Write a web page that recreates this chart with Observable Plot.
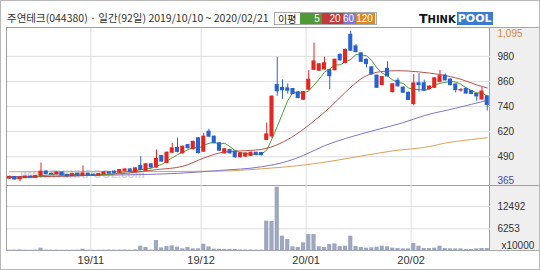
<!DOCTYPE html>
<html><head><meta charset="utf-8">
<script src="https://cdn.jsdelivr.net/npm/d3@7"></script>
<script src="https://cdn.jsdelivr.net/npm/@observablehq/plot@0.6"></script>
<style>
html,body{margin:0;padding:0;background:#fff;}
#root{position:relative;width:540px;height:270px;overflow:hidden;font-family:"Liberation Sans",Arial,sans-serif;background:#fff;}
.abs{position:absolute;}
#frame{left:0;top:0;width:540px;height:270px;border:1px solid #b8b8b8;box-sizing:border-box;}
#title{left:7px;top:11px;font-family:"Noto Sans CJK KR","Noto Sans",sans-serif;font-size:10.5px;line-height:13px;color:#333;white-space:nowrap;}
#legend{left:274px;top:12px;width:103px;height:13px;border:1px solid #aaa;box-sizing:border-box;background:#fff;display:flex;align-items:stretch;font-size:10px;line-height:11px;}
#legend .lb{font-family:"Noto Sans CJK KR",sans-serif;color:#222;padding:0 4px 0 3px;font-size:10px;}
#legend .bx{color:#fff;text-align:right;padding-right:2px;box-sizing:border-box;}
#logo{left:419px;top:12px;height:13px;display:flex;align-items:flex-end;font-family:"DejaVu Sans",sans-serif;font-weight:bold;white-space:nowrap;}
#rightbg{left:490px;top:27px;width:49px;height:224px;background:#efefef;border-top:1px solid #a8a8a8;border-bottom:1px solid #a8a8a8;box-sizing:border-box;}
#panel{left:6px;top:27px;width:484px;height:224px;border:1px solid #a0a0a0;box-sizing:border-box;background:#fff;}
#sep{left:6px;top:185px;width:533px;height:1px;background:#a0a0a0;}
svg{position:absolute;left:0;}
</style></head><body><div id="root">
<div id="rightbg" class="abs"></div>
<div id="panel" class="abs"></div>
<div id="sep" class="abs"></div>
<div id="frame" class="abs"></div>
<div id="title" class="abs">주연테크(044380) · 일간(92일) 2019/10/10 ~ 2020/02/21</div>
<div id="legend" class="abs"></div>
<div id="logo" class="abs"></div>
</div>
<script>
const dates = [
"2019-10-10","2019-10-11","2019-10-14","2019-10-15","2019-10-16","2019-10-17","2019-10-18","2019-10-21","2019-10-22","2019-10-23","2019-10-24","2019-10-25","2019-10-28","2019-10-29","2019-10-30","2019-10-31",
"2019-11-01","2019-11-04","2019-11-05","2019-11-06","2019-11-07","2019-11-08","2019-11-11","2019-11-12","2019-11-13","2019-11-14","2019-11-15","2019-11-18","2019-11-19","2019-11-20","2019-11-21","2019-11-22","2019-11-25","2019-11-26","2019-11-27","2019-11-28","2019-11-29",
"2019-12-02","2019-12-03","2019-12-04","2019-12-05","2019-12-06","2019-12-09","2019-12-10","2019-12-11","2019-12-12","2019-12-13","2019-12-16","2019-12-17","2019-12-18","2019-12-19","2019-12-20","2019-12-23","2019-12-24","2019-12-26","2019-12-27","2019-12-30",
"2020-01-02","2020-01-03","2020-01-06","2020-01-07","2020-01-08","2020-01-09","2020-01-10","2020-01-13","2020-01-14","2020-01-15","2020-01-16","2020-01-17","2020-01-20","2020-01-21","2020-01-22","2020-01-23","2020-01-28","2020-01-29","2020-01-30","2020-01-31",
"2020-02-03","2020-02-04","2020-02-05","2020-02-06","2020-02-07","2020-02-10","2020-02-11","2020-02-12","2020-02-13","2020-02-14","2020-02-17","2020-02-18","2020-02-19","2020-02-20","2020-02-21"];

const open = [380,388,377,384,390,386,394,415,404,401, 410,398,393,404,395,404,399,395,402,411,
 414,409,418,425,411,442,418,450,434,490, 456,506,529,503,543,523,576,511,608,584,
 552,503,519,511,484,487,490,506,505,568, 585,834,820,818,815,799,763,812,908,904,
 910,907,906,981,941,1078,1022,988,957,920, 880,834,913,800,855,822,797,742,843,843,
 815,821,849,880,861,837,808,816,805,791, 764,779];
const high = [392,390,388,393,392,396,456,418,407,413, 412,400,405,406,442,407,402,405,413,413,
 417,425,428,428,433,487,453,452,519,493, 510,551,577,538,546,562,580,600,620,587,
 554,526,522,513,506,505,509,508,507,650, 782,969,859,840,818,802,803,904,1038,938,
 969,910,960,985,1009,1095,1030,991,960,923, 883,876,947,841,868,825,800,885,889,858,
 830,871,905,888,864,840,817,820,808,794, 822,782];
const low = [378,373,365,380,383,384,391,400,397,398, 394,388,390,392,393,394,392,393,400,402,
 405,407,415,412,409,420,415,430,431,460, 453,503,506,500,524,520,500,508,580,549,
 513,500,500,479,481,485,488,492,491,565, 575,780,765,790,788,768,760,808,905,900,
 907,812,903,951,938,998,991,944,917,883, 818,831,873,796,825,794,759,733,800,804,
 812,818,846,854,831,796,800,790,788,756, 761,708];
const close = [389,376,385,390,386,393,414,403,400,410, 396,392,402,395,405,396,395,403,411,405,
 408,422,425,415,430,422,450,434,476,463, 506,527,510,535,528,559,504,584,584,552,
 516,523,503,484,503,502,506,495,494,595, 778,804,809,807,791,771,800,860,949,935,
 940,877,957,954,1005,1001,994,947,936,886, 821,873,876,838,828,797,762,842,834,807,
 827,867,877,857,834,810,810,793,791,779, 803,738];
const volume = [280,300,350,280,260,300,840,300,280,280, 260,280,260,280,560,280,260,260,280,300,
 280,300,320,300,350,1400,1030,300,2980,930, 1300,1490,1120,650,1030,650,650,1950,1200,560,
 500,500,500,500,350,330,330,300,300,8370, 8290,17860,4190,3260,1210,1020,2330,4650,4650,1210,
 1020,1860,2050,1300,1400,4190,1300,1020,840,930, 1120,1400,1210,840,745,650,650,2140,1400,745,
 745,840,1400,745,650,650,650,465,465,650, 745,745];

// moving averages: [day index, price]
const ma20 = [[0,388],[8,391],[16,397],[22,406],[28,424],[33,440],[37,480],[41,510],[45,516],[48,522],[50,535],[53,570],[56,620],[58,660],[61,725],[64,800],[67,865],[69,890],[71,900],[74,904],[78,898],[82,885],[86,862],[89,835],[91,820]];
const ma60 = [[0,390],[16,396],[32,406],[40,420],[48,438],[53,465],[56,493],[60,540],[64,575],[67,597],[70,618],[75,652],[79,686],[85,722],[91,760]];
const ma120 = [[0,414],[20,414],[40,417],[48,428],[56,446],[62,468],[67,490],[73,515],[80,536],[83,553],[88,570],[91,579]];

const priceMax = 1095, priceMin = 365;
const priceLabels = ["980","860","740","620","490"];
const volTicks = [12492, 6253];
const volUnit = "x10000";
const legendItems = [["5","#4f9a36",21.5],["20","#c4393a",20.7],["60","#7b76d8",13.6],["120","#e0871f",18.7]];

const red = "#e3261f", blue = "#2862d2";
const cMA5 = "#4f9a36", cMA20 = "#b5534a", cMA60 = "#7d76c9", cMA120 = "#d9a35a";
const gridC = "#dedede";
const font = '"Liberation Sans", Arial, sans-serif';

const candles = dates.map((date, i) => ({i, date, open: open[i], high: high[i], low: low[i], close: close[i], volume: volume[i]}));
const monthStarts = candles.filter((d, i) => i > 0 && d.date.slice(5, 7) !== candles[i - 1].date.slice(5, 7));
const monthLabel = d => d.date.slice(2, 4) + "/" + d.date.slice(5, 7);
const col = d => d.close >= d.open ? red : blue;
const priceTickRows = priceLabels.map((label, k) => ({v: priceMax - (k + 1) * (priceMax - priceMin) / (priceLabels.length + 1), label}));
const xDomain = [-0.38, dates.length - 1 + 0.62];

const price = Plot.plot({
  width: 540, height: 158,
  marginLeft: 7, marginRight: 50, marginTop: 2.8, marginBottom: 4.7,
  style: {background: "transparent", overflow: "visible", fontFamily: font},
  x: {domain: xDomain, axis: null},
  y: {domain: [priceMin, priceMax], axis: null},
  marks: [
    Plot.ruleY(priceTickRows, {y: "v", stroke: gridC}),
    Plot.ruleX(monthStarts, {x: d => d.i - 0.5, stroke: gridC, insetTop: -2.8, insetBottom: -4.7}),
    Plot.text(["www.THINKPOOL.com"], {frameAnchor: "bottom-left", dx: 13, dy: -4, textAnchor: "start", fontSize: 11.5, fontWeight: "bold", fill: "#cfd3e2"}),
    Plot.line(ma120, {x: d => d[0], y: d => d[1], stroke: cMA120, strokeWidth: 1, curve: "monotone-x"}),
    Plot.line(ma60, {x: d => d[0], y: d => d[1], stroke: cMA60, strokeWidth: 1, curve: "monotone-x"}),
    Plot.line(ma20, {x: d => d[0], y: d => d[1], stroke: cMA20, strokeWidth: 1, curve: "monotone-x"}),
    Plot.lineY(candles, Plot.windowY({k: 5, anchor: "end", x: "i", y: "close", stroke: cMA5, strokeWidth: 1})),
    Plot.ruleX(candles, {x: "i", y1: "low", y2: "high", stroke: col, strokeWidth: 1}),
    Plot.rect(candles, {x1: d => d.i - 0.39, x2: d => d.i + 0.39, y1: "open", y2: "close", fill: col, insetTop: -0.5, insetBottom: -0.5}),
    Plot.text(priceTickRows, {y: "v", text: "label", frameAnchor: "right", dx: 7, textAnchor: "start", fontSize: 10, fill: "#333"}),
    Plot.text([priceMax], {y: d => d, text: d => d3.format(",")(d), frameAnchor: "right", dx: 7, dy: 2, textAnchor: "start", fontSize: 10, fill: "#d4893a"}),
    Plot.text([priceMin], {y: d => d, text: d => String(d), frameAnchor: "right", dx: 7, dy: -1, textAnchor: "start", fontSize: 10, fill: "#4a4aa8"})
  ]
});
price.style.top = "28px";

const vol = Plot.plot({
  width: 540, height: 84,
  marginLeft: 7, marginRight: 50, marginTop: 0, marginBottom: 19.3,
  style: {background: "transparent", overflow: "visible", fontFamily: font},
  x: {domain: xDomain, axis: null},
  y: {domain: [0, 18060], axis: null},
  marks: [
    Plot.ruleY(volTicks, {stroke: gridC}),
    Plot.ruleX(monthStarts, {x: d => d.i - 0.5, stroke: gridC}),
    Plot.rect(candles, {x1: d => d.i - 0.4, x2: d => d.i + 0.4, y1: 0, y2: "volume", fill: "#9ea7bf"}),
    Plot.text(volTicks, {y: d => d, text: d => String(d), frameAnchor: "right", dx: 7, textAnchor: "start", fontSize: 10, fill: "#333"}),
    Plot.text([volUnit], {frameAnchor: "bottom-right", dx: 11, dy: -2, textAnchor: "start", fontSize: 10, fill: "#333"}),
    Plot.text(monthStarts, {x: d => d.i - 0.5, frameAnchor: "bottom", dy: 12.5, text: monthLabel, fontSize: 11, fill: "#333"})
  ]
});
vol.style.top = "186px";

const root = document.getElementById("root");
root.insertBefore(vol, document.getElementById("frame"));
root.insertBefore(price, document.getElementById("frame"));

// legend
const lg = document.getElementById("legend");
const lb = document.createElement("span"); lb.className = "lb"; lb.textContent = "이평"; lg.appendChild(lb);
for (const [t, c, w] of legendItems) {
  const s = document.createElement("span"); s.className = "bx"; s.textContent = t;
  s.style.background = c; s.style.width = w + "px"; lg.appendChild(s);
}
// logo
const logo = document.getElementById("logo");
logo.innerHTML = '<span style="font-size:12.5px;line-height:12px;color:#111">T</span><span style="font-size:10px;line-height:11px;color:#111">HINK</span><span style="display:inline-block;background:#3b7bd0;color:#fff;font-size:11px;line-height:13px;padding:0 1px;margin-left:1px">POOL</span>';
</script>
</body></html>
